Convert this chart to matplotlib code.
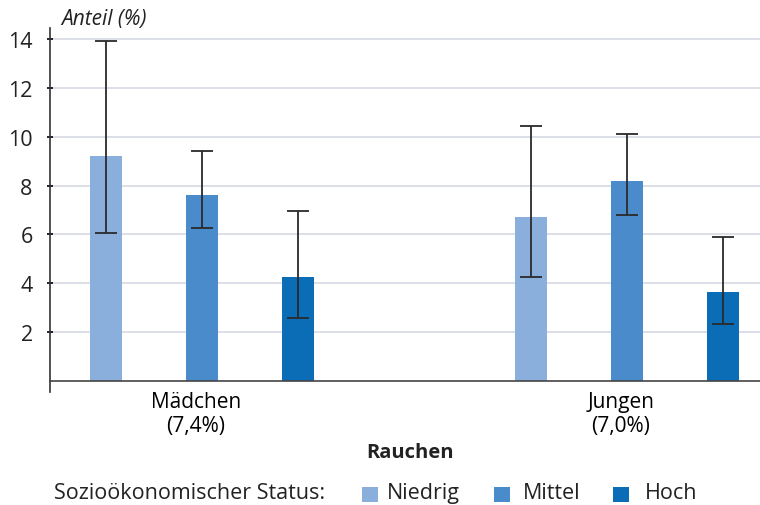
import numpy as np
import matplotlib.pyplot as plt
from matplotlib.patches import Rectangle

plt.rcParams["font.family"] = ["Open Sans", "DejaVu Sans"]
plt.rcParams["font.size"] = 15

groups = ["Mädchen\n(7,4%)", "Jungen\n(7,0%)"]
status = ["Niedrig", "Mittel", "Hoch"]
colors = ["#8aafdc", "#4a8ccb", "#0a6db6"]

# values per status: [Mädchen, Jungen]
values = {
    "Niedrig": [9.2, 6.7],
    "Mittel": [7.6, 8.2],
    "Hoch": [4.25, 3.65],
}
err_low = {
    "Niedrig": [6.05, 4.25],
    "Mittel": [6.25, 6.8],
    "Hoch": [2.6, 2.35],
}
err_high = {
    "Niedrig": [13.9, 10.45],
    "Mittel": [9.4, 10.1],
    "Hoch": [6.95, 5.9],
}
yticks = [2, 4, 6, 8, 10, 12, 14]

fig = plt.figure(figsize=(7.6, 5.06), dpi=100)
ax = fig.add_axes([0.0658, 0.223, 0.9342, 0.720])

x = np.arange(len(groups))
offset = 0.2259
width = 0.0753

for i, s in enumerate(status):
    xs = x + (i - 1) * offset
    vals = np.array(values[s])
    lo = vals - np.array(err_low[s])
    hi = np.array(err_high[s]) - vals
    ax.bar(xs, vals, width=width, color=colors[i], zorder=2)
    ax.errorbar(xs, vals, yerr=[lo, hi], fmt="none", ecolor="#2a2a2a",
                elinewidth=1.3, capsize=8, capthick=1.3, zorder=3)

ax.set_xlim(-0.3576, 1.313)
ax.set_ylim(-0.45, 14.45)
ax.set_yticks(yticks)
ax.tick_params(axis="x", length=0, pad=7)
ax.tick_params(axis="y", length=5, width=1.2, direction="inout", pad=10,
               labelsize=15.5, labelcolor="#222222")
# group labels sit slightly left of the middle bar
ax.set_xticks([-0.0141, 0.9859])
ax.set_xticklabels(groups, linespacing=1.45, fontsize=15, color="#222222")

ax.grid(axis="y", color="#d9dce6", linewidth=1.3, zorder=0)
ax.spines["top"].set_visible(False)
ax.spines["right"].set_visible(False)
ax.spines["bottom"].set_position(("data", 0))
ax.spines["bottom"].set_color("#444444")
ax.spines["left"].set_color("#333333")
ax.spines["left"].set_linewidth(1.2)
ax.spines["bottom"].set_linewidth(1.2)

fig.text(0.081, 0.962, "Anteil (%)", style="italic", fontsize=15, va="center", color="#222222")
fig.text(0.539, 0.104, "Rauchen", fontweight="bold", fontsize=14.5, ha="center", va="center",
         color="#222222")

# legend drawn by hand so the spacing matches
fig.text(0.071, 0.024, "Sozioökonomischer Status:", fontsize=15.5, va="center", color="#222222")
square_x = [0.476, 0.650, 0.806]
label_x = [0.509, 0.688, 0.849]
for sx, lx, c, s in zip(square_x, label_x, colors, status):
    fig.patches.append(Rectangle((sx, 0.006), 0.021, 0.030, transform=fig.transFigure,
                                 facecolor=c, edgecolor="none"))
    fig.text(lx, 0.024, s, fontsize=15.5, va="center", color="#222222")

fig.savefig("out.png", dpi=100)
